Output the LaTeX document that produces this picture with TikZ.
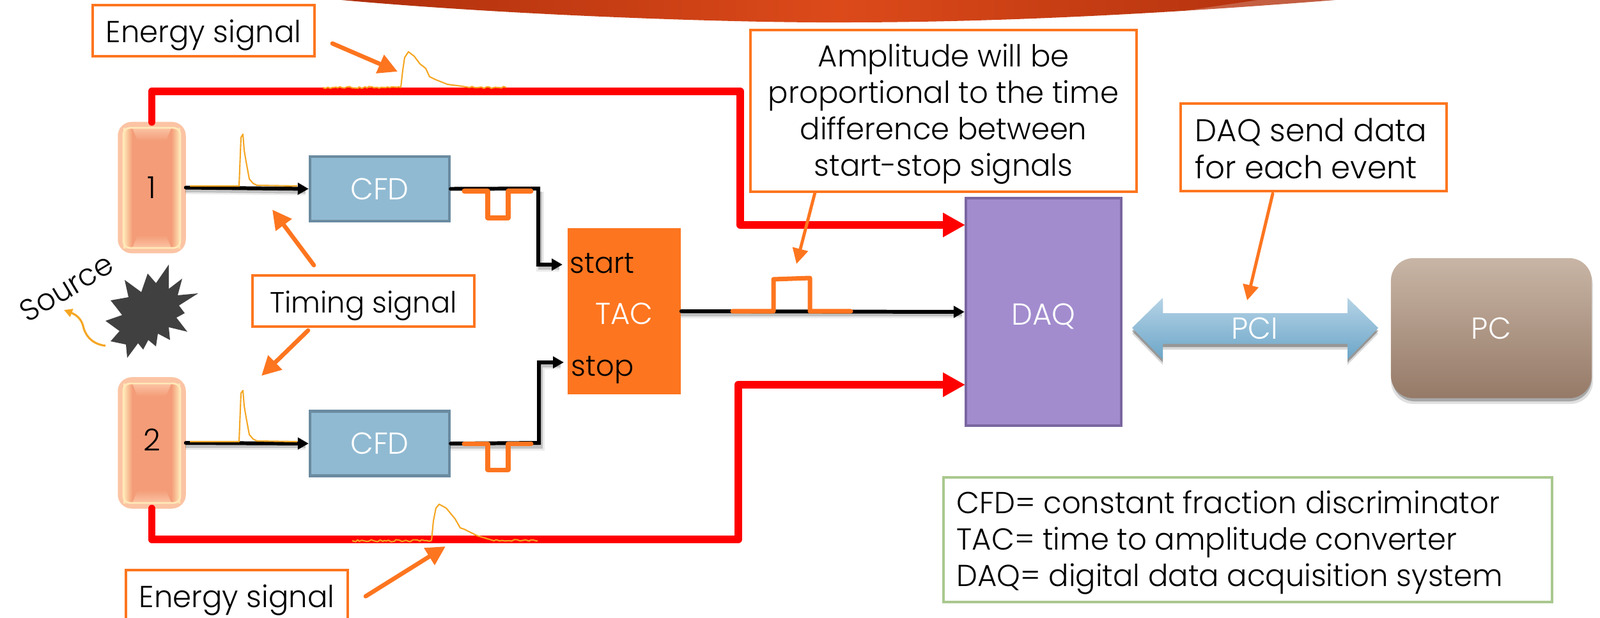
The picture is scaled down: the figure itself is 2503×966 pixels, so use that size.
\documentclass[tikz,border=0pt]{standalone}
\usepackage{fontspec}
\setmainfont[FakeStretch=0.98]{Poppins Light}
\usetikzlibrary{arrows.meta,decorations.pathmorphing}
\definecolor{oran}{HTML}{FD751F}
\definecolor{pulse}{HTML}{F5A623}
\definecolor{cfdf}{HTML}{90BAD2}
\definecolor{cfdb}{HTML}{6A8BA0}
\definecolor{daqf}{HTML}{A28CCE}
\definecolor{daqb}{HTML}{7A66A0}
\definecolor{detf}{HTML}{F49C78}
\definecolor{detg}{HTML}{FBC4A4}
\definecolor{deti}{HTML}{FFE9B8}
\definecolor{legb}{HTML}{A9C88E}
\definecolor{pca}{HTML}{C8B5A5}
\definecolor{pcb}{HTML}{967A68}
\definecolor{pcia}{HTML}{B5D3E6}
\definecolor{pcib}{HTML}{6CA6C8}
\definecolor{bana}{HTML}{AE2F0C}
\definecolor{banb}{HTML}{DC4A1A}
\definecolor{star}{HTML}{404040}
\newcommand{\softline}[1]{\draw[blkw] #1; \draw[blks] #1;}
\tikzset{
  x=0.01cm,y=-0.01cm,
  big/.style={font=\fontsize{13.5}{16.2}\selectfont},
  txt/.style={big,text=black,inner sep=0pt},
  wtxt/.style={big,text=white,inner sep=0pt},
  call/.style={big,draw=oran,line width=1.2pt,fill=white,inner sep=0pt},
  lowered/.style={text height=12pt,text depth=1.6pt},
  det/.style={big,draw=detg,line width=2.4pt,fill=detf,rounded corners=5pt,minimum width=0.98cm,minimum height=1.97cm,inner sep=0pt},
  cfd/.style={wtxt,draw=cfdb,line width=1.2pt,fill=cfdf,minimum width=2.18cm,minimum height=1.01cm},
  blk/.style={draw=black,line width=1.7pt,line cap=round,line join=miter,-{Triangle[length=0.17cm,width=0.18cm]}},
  blks/.style={draw=black,opacity=.18,line width=1.7pt},
  blkw/.style={draw=black,opacity=.08,line width=3.2pt},
  redl/.style={draw=red,line width=3.4pt,line cap=round,line join=round,-{Triangle[length=0.35cm,width=0.36cm]}},
  note/.style={draw=oran,line width=1.9pt,line cap=round,-{Triangle[length=0.3cm,width=0.3cm]}},
  notethin/.style={draw=oran,line width=1.4pt,line cap=round,-{Triangle[length=0.24cm,width=0.24cm]}},
  square/.style={draw=oran,line width=2pt,line cap=round,line join=round},
  trace/.style={draw=pulse,line width=0.6pt,line join=round},
  noisy/.style={trace,decorate,decoration={random steps,segment length=1.1pt,amplitude=0.5pt}},
}
\begin{document}
\begin{tikzpicture}
\useasboundingbox (0,0) rectangle (2503,966);
\clip (0,0) rectangle (2503,966);
% banner
\shade[left color=bana,right color=bana,middle color=banb,shading angle=90]
  (534,0) .. controls (800,24) and (1150,36) .. (1321,35) .. controls (1550,35) and (1800,23) .. (2089,0) -- cycle;
\fill[fill=white,opacity=.22] (1832,20) -- (1968,0) -- (2089,0) .. controls (2010,8) and (1920,15) .. (1832,20) -- cycle;
% detectors
\node[det] (det1) at (237.5,293.5) {1\hspace{3pt}};
\node[det,text height=9.5pt,text depth=2.3pt] (det2) at (237.5,693) {2};
\foreach \t/\b in {200/388,600/787}{
  \shade[left color=deti,right color=detf] (193,\t) rectangle (207,\b);
  \shade[left color=detf,right color=deti] (268,\t) rectangle (282,\b);
  \shade[top color=detg,bottom color=detf] (207,\t) -- (268,\t) -- (260,\t+20) -- (215,\t+20) -- cycle;
  \shade[top color=detf,bottom color=detg] (215,\b-20) -- (260,\b-20) -- (268,\b) -- (207,\b) -- cycle;
  \draw[deti,line width=.8pt,rounded corners=3pt] (193,\t) rectangle (282,\b);
}
% processing boxes
\node[cfd] (cfd1) at (594,295.5) {CFD};
\node[cfd] (cfd2) at (594,694) {CFD};
\node[wtxt,fill=oran,minimum width=1.77cm,minimum height=2.6cm,text height=11.4pt,text depth=0pt] (tac) at (976.5,487) {TAC};
\node[wtxt,draw=daqb,line width=1.2pt,fill=daqf,minimum width=2.43cm,minimum height=3.56cm,text height=12pt,text depth=.6pt] (daq) at (1632.5,488) {DAQ};
\node[txt,anchor=west,font=\fontsize{13}{16}\selectfont] (start) at (891,412) {start};
\node[txt,anchor=west,font=\fontsize{13}{16}\selectfont] (stop) at (893,579) {stop};
% PC
\fill[black,opacity=.12,rounded corners=10pt] (2176,410) rectangle (2492,632);
\fill[black,opacity=.25,rounded corners=10pt] (2178,410) rectangle (2490,628);
\node[wtxt,rounded corners=10pt,top color=pca,bottom color=pcb,minimum width=3.14cm,minimum height=2.19cm] (pc) at (2333,513.5) {PC};
% PCI
\fill[black,opacity=.15] (1771,522) -- (1819,475) -- (1819,499) -- (2108,499) -- (2108,475) -- (2156,522) -- (2108,571) -- (2108,547) -- (1819,547) -- (1819,571) -- cycle;
\fill[black,opacity=.3] (1771,518) -- (1819,471) -- (1819,495) -- (2108,495) -- (2108,471) -- (2156,518) -- (2108,567) -- (2108,543) -- (1819,543) -- (1819,567) -- cycle;
\shade[top color=pcia,bottom color=pcib] (1771,513) -- (1819,466) -- (1819,490) -- (2108,490) -- (2108,466) -- (2156,513) -- (2108,562) -- (2108,538) -- (1819,538) -- (1819,562) -- cycle;
\node[wtxt] (pci) at (1963,514) {PCI};
% red connectors
\coordinate (rtop) at (1158,143);
\coordinate (rbot) at (1155,844);
\coordinate (daqa) at (1510,352);
\coordinate (daqc) at (1510,602);
\draw[redl] (det1.north) |- (rtop) |- (daqa);
\draw[redl] (det2.south) |- (rbot) |- (daqc);
% black connectors
\coordinate (out1) at (842,295);
\coordinate (out2) at (843,693);
\coordinate (tacin1) at (880,414);
\coordinate (tacin2) at (882,567);
\softline{(290,298) -- (478,300)}
\softline{(290,698) -- (478,698)}
\softline{(845,300) -- (845,419) -- (875,419)}
\softline{(704,699) -- (846,699) -- (846,572) -- (877,572)}
\softline{(1065,492) -- (1505,492)}
\draw[blk] (det1.east) -- (cfd1.west);
\draw[blk] (det2.east) -- (cfd2.west);
\draw[blk] (cfd1.east) -- (out1) |- (tacin1);
\draw[blk] (cfd2.east) -- (out2) |- (tacin2);
\draw[blk] (tac.east) -- (daq.west);
% square pulses
\draw[square] (726,299) -- (763,299) -- (763,341) -- (795,341) -- (795,299) -- (831,299);
\draw[square] (726,694) -- (763,694) -- (763,735) -- (795,735) -- (795,694) -- (831,694);
\draw[square] (1146,487) -- (1210,487) -- (1210,437) -- (1267,435) -- (1267,487) -- (1331,487);
% analog traces
\draw[noisy] (505,137) -- (627,137);
\draw[trace] (627,137) -- (630,110) -- (633,90) -- (639,81) -- (648,88) -- (657,100) -- (666,107) -- (672,120) -- (680,124) -- (700,132) -- (723,135) -- (735,137);
\draw[noisy] (735,137) -- (792,137);
\draw[noisy] (551,846) -- (675,846);
\draw[trace] (675,846) -- (678,815) -- (682,795) -- (687,789) -- (698,795) -- (712,812) -- (720,826) -- (726,828) -- (746,838) -- (769,845);
\draw[noisy] (769,845) -- (841,846);
\draw[trace] (297,291) -- (374,291) -- (376,240) -- (377,215) -- (380,210) -- (382,235) -- (385,253) -- (390,280) -- (396,287) -- (402,290) -- (465,291);
\draw[trace] (297,691) -- (374,691) -- (376,640) -- (377,615) -- (380,611) -- (382,635) -- (385,653) -- (390,680) -- (396,687) -- (402,690) -- (465,691);
% source
\fill[star] (195,438) -- (221,457) -- (231,428) -- (244,443) -- (264,414) -- (264,452) -- (285,436) -- (278,462) -- (310,459) -- (280,478) -- (289,490) -- (276,497) -- (293,519) -- (264,512) -- (266,532) -- (247,522) -- (244,542) -- (232,532) -- (224,547) -- (216,537) -- (199,560) -- (197,539) -- (173,534) -- (187,518) -- (165,502) -- (191,493) -- (181,480) -- (173,470) -- (201,465) -- cycle;
\node[txt,rotate=31] (src) at (104,450) {Source};
\coordinate (srca) at (165,541);
\coordinate (srcb) at (100,485);
\draw[pulse,line width=.9pt,-{Triangle[length=0.13cm,width=0.13cm]}] (srca) .. controls (140,538) and (132,520) .. (130,510) .. controls (127,498) and (118,492) .. (srcb);
% callouts
\node[call,lowered,minimum width=3.47cm,minimum height=0.8cm] (en1) at (318.5,48) {Energy signal};
\node[call,lowered,font=\fontsize{13}{16}\selectfont,minimum width=3.47cm,minimum height=0.8cm] (tim) at (568.5,471) {Timing signal};
\node[call,lowered,minimum width=3.47cm,minimum height=0.8cm] (en2) at (370.5,932) {Energy signal};
\node[call,minimum width=6.04cm,minimum height=2.53cm] (amp) at (1476,173.5) {};
\node[txt,align=center] (ampt) at (1476,178.5) {Amplitude will be\\proportional to the time\\difference between\\start-stop signals};
\node[call,minimum width=4.16cm,minimum height=1.37cm] (daqn) at (2055,230.5) {};
\node[txt,align=left,anchor=west,font=\fontsize{14}{16.5}\selectfont] (daqt) at (1869,232) {DAQ send data\\for each event};
\node[big,draw=legb,line width=1.1pt,fill=white,minimum width=9.52cm,minimum height=1.95cm,inner sep=0pt] (leg) at (1952,844.5) {};
\node[txt,align=left,anchor=west] (legt) at (1496,849) {CFD= constant fraction discriminator\\TAC= time to amplitude converter\\DAQ= digital data acquisition system};
% note arrows
\coordinate (n1a) at (520,68);
\coordinate (n1b) at (622,112);
\coordinate (n2a) at (491,415);
\coordinate (n2b) at (426,328);
\coordinate (n3a) at (482,517);
\coordinate (n3b) at (409,588);
\coordinate (n4a) at (572,933);
\coordinate (n4b) at (697,855);
\coordinate (n5a) at (1275,301);
\coordinate (n5b) at (1246,413);
\coordinate (n6a) at (1991,303);
\coordinate (n6b) at (1951,470);
\draw[note] (n1a) -- (n1b);
\draw[note] (n2a) -- (n2b);
\draw[note] (n3a) -- (n3b);
\draw[note] (n4a) -- (n4b);
\draw[notethin] (n5a) -- (n5b);
\draw[notethin] (n6a) -- (n6b);
\end{tikzpicture}
\end{document}
